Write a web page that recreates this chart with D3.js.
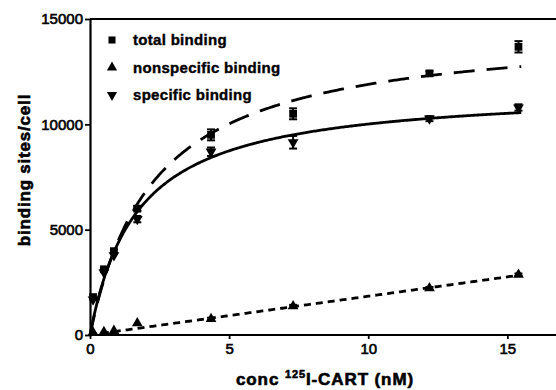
<!DOCTYPE html>
<html>
<head>
<meta charset="utf-8">
<script src="https://cdn.jsdelivr.net/npm/d3@7"></script>
<style>
  html, body { margin: 0; padding: 0; background: #fff; }
  svg { display: block; font-family: "Liberation Sans", Arial, sans-serif; }
</style>
</head>
<body>
<svg id="chart" width="556" height="390"></svg>
<script>
// Concentration of 125I-CART (nM) at each measurement
const conc = [0.11, 0.5, 0.86, 1.7, 4.35, 7.3, 12.2, 15.4];

// Binding sites per cell (mean) and error half-widths
const totalBinding = [1800, 3120, 3980, 6000, 9500, 10500, 12420, 13680];
const totalErr     = [0, 80, 80, 120, 260, 260, 100, 270];
const nonspecificBinding = [120, 150, 200, 560, 760, 1370, 2220, 2860];
const nonspecificErr     = [0, 0, 0, 0, 60, 60, 60, 60];
const specificBinding = [1680, 2970, 3780, 5500, 8700, 9150, 10270, 10800];
const specificErr     = [0, 0, 0, 150, 200, 300, 120, 150];

// Fitted model parameters
const specificFit = { bmax: 11715, kd: 1.7 };      // one-site saturation
const totalFit = { bmax: 14634, kd: 2.3 };         // one-site saturation
const nonspecificSlope = 184;                       // linear

const xTicks = [0, 5, 10, 15];
const yTicks = [0, 5000, 10000, 15000];

const legendItems = [
  { label: "total binding", symbol: d3.symbolSquare, rot: 0 },
  { label: "nonspecific binding", symbol: d3.symbolTriangle, rot: 0 },
  { label: "specific binding", symbol: d3.symbolTriangle, rot: 180 }
];

const svg = d3.select("#chart");
const x = d3.scaleLinear().domain([0, 17]).range([90, 563]);
const y = d3.scaleLinear().domain([0, 15000]).range([335, 19]);

// Frame (top and left/bottom axes)
svg.append("line")
  .attr("x1", x(0)).attr("x2", 556).attr("y1", y(15000)).attr("y2", y(15000))
  .attr("stroke", "#000").attr("stroke-width", 2);

const xAxis = svg.append("g")
  .attr("transform", `translate(0,${y(0)})`)
  .call(d3.axisBottom(x).tickValues(xTicks).tickFormat(d3.format("d")).tickSizeInner(4).tickSizeOuter(0).tickPadding(4));
const yAxis = svg.append("g")
  .attr("transform", `translate(${x(0)},0)`)
  .call(d3.axisLeft(y).tickValues(yTicks).tickFormat(d3.format("d")).tickSizeInner(5).tickSizeOuter(0).tickPadding(2));

[xAxis, yAxis].forEach(g => {
  g.select(".domain").attr("stroke-width", 2.2);
  g.selectAll(".tick line").attr("stroke-width", 1.8);
  g.selectAll(".tick text").attr("font-size", 15).attr("fill", "#000")
    .attr("font-family", "'Liberation Sans', Arial, sans-serif")
    .attr("stroke", "#000").attr("stroke-width", 0.6);
});
xAxis.select(".domain").attr("d", `M${x(0)},0H556`);

// Axis titles
const xt = svg.append("text")
  .attr("x", 325).attr("y", 385)
  .attr("text-anchor", "middle")
  .attr("font-size", 17).attr("font-weight", "bold")
  .attr("letter-spacing", 0.9)
  .attr("stroke", "#000").attr("stroke-width", 0.6);
xt.append("tspan").text("conc ");
xt.append("tspan").attr("font-size", 11).attr("dy", -7).text("125");
xt.append("tspan").attr("dy", 7).text("I-CART (nM)");

svg.append("text")
  .attr("transform", `translate(30,170) rotate(-90)`)
  .attr("text-anchor", "middle")
  .attr("font-size", 17).attr("font-weight", "bold")
  .attr("letter-spacing", 0.8)
  .attr("stroke", "#000").attr("stroke-width", 0.6)
  .text("binding sites/cell");

// Fitted curves
const xs = d3.range(0, 15.55, 0.05);
const line = d3.line().x(d => x(d[0])).y(d => y(d[1]));

svg.append("path")
  .datum(xs.map(c => [c, totalFit.bmax * c / (totalFit.kd + c)]))
  .attr("d", line).attr("fill", "none").attr("stroke", "#000")
  .attr("stroke-width", 2.8).attr("stroke-dasharray", "21,12");

svg.append("path")
  .datum(xs.map(c => [c, specificFit.bmax * c / (specificFit.kd + c)]))
  .attr("d", line).attr("fill", "none").attr("stroke", "#000")
  .attr("stroke-width", 2.8);

svg.append("path")
  .datum(xs.map(c => [c, nonspecificSlope * c]))
  .attr("d", line).attr("fill", "none").attr("stroke", "#000")
  .attr("stroke-width", 2.8).attr("stroke-dasharray", "7,5");

// Data points with error bars
function drawSeries(values, errs, symbolType, rot) {
  const g = svg.append("g");
  const pts = conc.map((c, i) => ({ c, v: values[i], e: errs[i] }));
  g.selectAll(".err").data(pts.filter(d => d.e > 0)).join("g").each(function(d) {
    const s = d3.select(this);
    s.append("line").attr("x1", x(d.c)).attr("x2", x(d.c))
      .attr("y1", y(d.v - d.e)).attr("y2", y(d.v + d.e))
      .attr("stroke", "#000").attr("stroke-width", 2);
    [d.v - d.e, d.v + d.e].forEach(v => s.append("line")
      .attr("x1", x(d.c) - 4).attr("x2", x(d.c) + 4)
      .attr("y1", y(v)).attr("y2", y(v))
      .attr("stroke", "#000").attr("stroke-width", 2));
  });
  g.selectAll("path.pt").data(pts).join("path")
    .attr("class", "pt")
    .attr("d", d3.symbol().type(symbolType).size(symbolType === d3.symbolSquare ? 60 : 50))
    .attr("transform", d => `translate(${x(d.c)},${y(d.v)}) rotate(${rot})`)
    .attr("fill", "#000");
}
drawSeries(totalBinding, totalErr, d3.symbolSquare, 0);
drawSeries(nonspecificBinding, nonspecificErr, d3.symbolTriangle, 0);
drawSeries(specificBinding, specificErr, d3.symbolTriangle, 180);

// Legend
const legend = svg.append("g");
legendItems.forEach((it, i) => {
  const yy = 40 + i * 27.5;
  legend.append("path")
    .attr("d", d3.symbol().type(it.symbol).size(it.symbol === d3.symbolSquare ? 50 : 45))
    .attr("transform", `translate(112,${yy}) rotate(${it.rot})`)
    .attr("fill", "#000");
  legend.append("text")
    .attr("x", 133).attr("y", yy + 5)
    .attr("font-size", 15).attr("font-weight", "bold")
    .attr("letter-spacing", 0.3)
    .attr("stroke", "#000").attr("stroke-width", 0.4)
    .text(it.label);
});
</script>
</body>
</html>
